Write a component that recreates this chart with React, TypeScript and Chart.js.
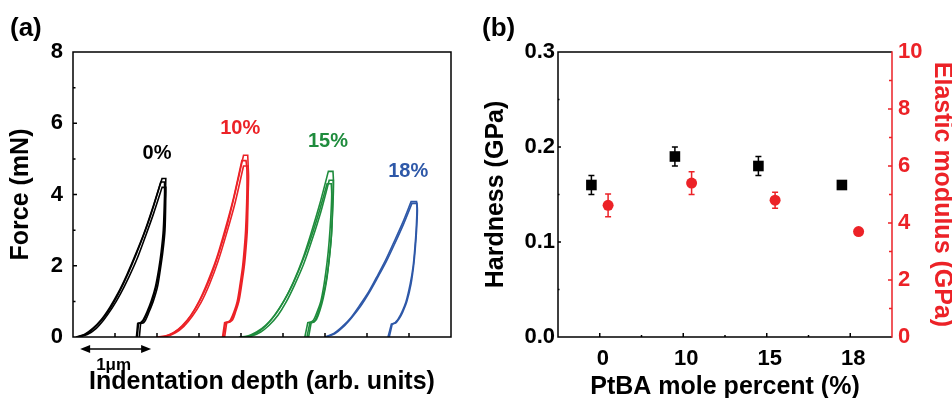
import React, { useEffect, useRef } from 'react';
import { Chart, registerables } from 'chart.js';
Chart.register(...registerables);

const FONT = "'Liberation Sans', Arial, Helvetica, sans-serif";
const BLACK = '#000000';
const RED = '#ec2227';
const GREEN = '#1f8c3d';
const BLUE = '#2e58a8';

// ---------- Panel (a): load-displacement curves, [depth (arb.), force (mN)] ----------
// corner points (peak, end of hold, drift-hold step) are listed twice to keep the corners sharp
const curves0: number[][][] = [
  [[0.10,0],[0.30,0.07],[0.50,0.25],[0.71,0.51],[0.91,0.85],[1.11,1.28],[1.31,1.78],[1.51,2.34],[1.72,2.98],[1.92,3.68],[2.12,4.45],[2.12,4.45],[2.21,4.45],[2.21,4.45],[2.20,4.0],[2.17,3.0],[2.12,2.4],[2.06,1.9],[1.98,1.4],[1.88,1.0],[1.78,0.7],[1.69,0.48],[1.63,0.40],[1.63,0.40],[1.56,0.38],[1.56,0.38],[1.53,0]],
  [[0.14,0],[0.34,0.07],[0.54,0.23],[0.73,0.48],[0.93,0.81],[1.13,1.21],[1.33,1.68],[1.53,2.21],[1.72,2.81],[1.92,3.47],[2.12,4.2],[2.12,4.2],[2.21,4.2],[2.21,4.2],[2.21,4.0],[2.19,3.0],[2.14,2.4],[2.08,1.9],[2.01,1.4],[1.91,1.0],[1.81,0.7],[1.73,0.48],[1.68,0.40],[1.68,0.40],[1.61,0.38],[1.61,0.38],[1.58,0]],
  [[0.07,0],[0.27,0.07],[0.47,0.24],[0.68,0.50],[0.88,0.84],[1.08,1.25],[1.28,1.74],[1.48,2.29],[1.69,2.91],[1.89,3.60],[2.09,4.35],[2.09,4.35],[2.18,4.35],[2.18,4.35],[2.18,4.0],[2.15,3.0],[2.10,2.4],[2.04,1.9],[1.96,1.4],[1.86,1.0],[1.76,0.7],[1.67,0.48],[1.61,0.40],[1.61,0.40],[1.54,0.38],[1.54,0.38],[1.51,0]],
];
const curves10: number[][][] = [
  [[2.00,0],[2.21,0.03],[2.41,0.13],[2.62,0.32],[2.82,0.62],[3.03,1.04],[3.24,1.58],[3.44,2.24],[3.65,3.05],[3.85,4.0],[4.06,5.1],[4.06,5.1],[4.16,5.1],[4.16,5.1],[4.17,4.8],[4.16,4.0],[4.13,3.0],[4.10,2.5],[4.06,2.0],[4.00,1.5],[3.93,1.0],[3.85,0.7],[3.77,0.48],[3.71,0.42],[3.71,0.42],[3.63,0.40],[3.63,0.40],[3.58,0]],
  [[2.03,0],[2.23,0.02],[2.44,0.12],[2.64,0.30],[2.84,0.58],[3.05,0.97],[3.25,1.48],[3.45,2.11],[3.65,2.88],[3.86,3.77],[4.06,4.8],[4.06,4.8],[4.17,4.8],[4.17,4.8],[4.18,4.5],[4.17,4.0],[4.15,3.0],[4.12,2.5],[4.08,2.0],[4.02,1.5],[3.95,1.0],[3.87,0.7],[3.80,0.48],[3.74,0.42],[3.74,0.42],[3.66,0.40],[3.66,0.40],[3.61,0]],
  [[1.98,0],[2.18,0.02],[2.39,0.12],[2.59,0.31],[2.80,0.60],[3.00,1.0],[3.20,1.53],[3.41,2.18],[3.61,2.97],[3.82,3.89],[4.02,4.95],[4.02,4.95],[4.12,4.95],[4.12,4.95],[4.14,4.7],[4.14,4.0],[4.11,3.0],[4.08,2.5],[4.04,2.0],[3.98,1.5],[3.91,1.0],[3.83,0.7],[3.75,0.48],[3.69,0.42],[3.69,0.42],[3.61,0.40],[3.61,0.40],[3.56,0]],
];
const curves15: number[][][] = [
  [[4.00,0],[4.21,0.03],[4.42,0.15],[4.62,0.35],[4.83,0.65],[5.04,1.05],[5.25,1.55],[5.46,2.16],[5.66,2.88],[5.87,3.71],[6.08,4.65],[6.08,4.65],[6.19,4.65],[6.19,4.65],[6.20,4.4],[6.19,4.0],[6.16,3.0],[6.12,2.4],[6.07,1.9],[6.00,1.4],[5.92,1.0],[5.84,0.7],[5.77,0.48],[5.72,0.42],[5.72,0.42],[5.64,0.40],[5.64,0.40],[5.57,0]],
  [[4.06,0],[4.26,0.03],[4.47,0.14],[4.67,0.33],[4.88,0.61],[5.08,0.99],[5.28,1.47],[5.49,2.04],[5.69,2.72],[5.90,3.51],[6.10,4.4],[6.10,4.4],[6.20,4.4],[6.20,4.4],[6.20,4.1],[6.18,3.5],[6.15,2.8],[6.10,2.2],[6.04,1.6],[5.96,1.1],[5.88,0.75],[5.80,0.5],[5.74,0.42],[5.74,0.42],[5.67,0.40],[5.67,0.40],[5.61,0]],
  [[3.95,0],[4.16,0.03],[4.37,0.14],[4.58,0.32],[4.79,0.60],[5.00,0.97],[5.21,1.43],[5.42,2.0],[5.63,2.66],[5.84,3.43],[6.05,4.3],[6.05,4.3],[6.15,4.3],[6.15,4.3],[6.16,4.0],[6.14,3.4],[6.10,2.7],[6.05,2.1],[5.98,1.5],[5.90,1.0],[5.81,0.7],[5.73,0.48],[5.67,0.42],[5.67,0.42],[5.59,0.40],[5.59,0.40],[5.52,0]],
];
const curves18: number[][][] = [
  [[6.00,0],[6.21,0.10],[6.41,0.29],[6.62,0.55],[6.82,0.88],[7.03,1.25],[7.23,1.68],[7.44,2.15],[7.64,2.66],[7.85,3.21],[8.05,3.8],[8.05,3.8],[8.18,3.8],[8.18,3.8],[8.19,3.6],[8.17,3.0],[8.14,2.5],[8.10,2.0],[8.03,1.5],[7.93,1.0],[7.83,0.7],[7.74,0.5],[7.67,0.4],[7.67,0.4],[7.58,0.36],[7.58,0.36],[7.50,0]],
  [[6.03,0],[6.23,0.09],[6.44,0.29],[6.64,0.55],[6.85,0.87],[7.05,1.24],[7.25,1.66],[7.46,2.12],[7.66,2.62],[7.87,3.17],[8.07,3.75],[8.07,3.75],[8.19,3.75],[8.19,3.75],[8.20,3.55],[8.18,3.0],[8.15,2.5],[8.11,2.0],[8.05,1.5],[7.95,1.0],[7.85,0.7],[7.76,0.5],[7.69,0.4],[7.69,0.4],[7.60,0.36],[7.60,0.36],[7.53,0]],
];
const curveSets = [curves0, curves10, curves15, curves18];
const curveColors = [BLACK, RED, GREEN, BLUE];
const curveLabels = ['0%', '10%', '15%', '18%'];
const curveLabelX = [2.0, 3.98, 6.07, 7.98];
const curveLabelY = [5.15, 5.86, 5.49, 4.64];

const forceMajorTicks = [2, 4, 6];
const forceMinorTicks = [1, 3, 5, 7];
const depthTicks = [1, 2, 3, 4, 5, 6, 7, 8];
const scaleBarDepth = [0.17, 1.86];
const scaleBarLabel = '1μm';

// ---------- Panel (b): hardness & elastic modulus ----------
const ptbaCategories = ['0', '10', '15', '18'];
const hardness = [0.16, 0.19, 0.18, 0.16];
const hardnessErr = [0.01, 0.01, 0.01, 0.0];
const modulus = [4.62, 5.4, 4.8, 3.7];
const modulusErr = [0.4, 0.4, 0.28, 0.0];
const hardMajor = [0.1, 0.2];
const hardMinor = [0.05, 0.15, 0.25];
const modMajor = [2, 4, 6, 8];
const modMinor = [1, 3, 5, 7, 9];
const catMinor = [0.5, 1.5, 2.5];
const DODGE = 0.1;

const tickFont = { family: FONT, size: 22, weight: 'bold' as const };
const titleFont = { family: FONT, size: 25, weight: 'bold' as const };

const panelAPlugin = {
  id: 'panelA',
  afterDraw(chart: any) {
    const { ctx, chartArea: ca, scales } = chart;
    const x = scales.x, y = scales.y;
    ctx.save();
    ctx.strokeStyle = BLACK;
    ctx.lineWidth = 1.5;
    ctx.strokeRect(ca.left, ca.top, ca.right - ca.left, ca.bottom - ca.top);
    ctx.beginPath();
    depthTicks.forEach((v) => { const px = x.getPixelForValue(v); ctx.moveTo(px, ca.bottom); ctx.lineTo(px, ca.bottom - 4); });
    forceMajorTicks.forEach((v) => { const py = y.getPixelForValue(v); ctx.moveTo(ca.left, py); ctx.lineTo(ca.left + 4, py); });
    forceMinorTicks.forEach((v) => { const py = y.getPixelForValue(v); ctx.moveTo(ca.left, py); ctx.lineTo(ca.left + 2.5, py); });
    ctx.stroke();
    // curve labels
    ctx.font = `bold 20px ${FONT}`;
    ctx.textAlign = 'center';
    ctx.textBaseline = 'middle';
    curveLabels.forEach((t, i) => {
      ctx.fillStyle = curveColors[i];
      ctx.fillText(t, x.getPixelForValue(curveLabelX[i]), y.getPixelForValue(curveLabelY[i]));
    });
    // scale bar
    const x0 = x.getPixelForValue(scaleBarDepth[0]);
    const x1 = x.getPixelForValue(scaleBarDepth[1]);
    const yb = ca.bottom + 12;
    ctx.strokeStyle = BLACK;
    ctx.fillStyle = BLACK;
    ctx.lineWidth = 1.6;
    ctx.beginPath();
    ctx.moveTo(x0 + 4, yb); ctx.lineTo(x1 - 4, yb); ctx.stroke();
    ctx.beginPath();
    ctx.moveTo(x0, yb); ctx.lineTo(x0 + 10, yb - 4); ctx.lineTo(x0 + 10, yb + 4); ctx.closePath();
    ctx.moveTo(x1, yb); ctx.lineTo(x1 - 10, yb - 4); ctx.lineTo(x1 - 10, yb + 4); ctx.closePath();
    ctx.fill();
    ctx.font = `bold 17px ${FONT}`;
    ctx.textAlign = 'center';
    ctx.textBaseline = 'alphabetic';
    ctx.fillText(scaleBarLabel, (x0 + x1) / 2 - 2, ca.bottom + 33);
    // panel letter
    ctx.font = `bold 26px ${FONT}`;
    ctx.textAlign = 'left';
    ctx.fillText('(a)', 10, 36);
    ctx.restore();
  },
};

const panelBPlugin = {
  id: 'panelB',
  beforeDatasetsDraw(chart: any) {
    const { ctx, scales } = chart;
    const x = scales.x, y = scales.y, y1 = scales.y1;
    ctx.save();
    ctx.lineWidth = 1.5;
    const bar = (px: number, top: number, bot: number, color: string) => {
      if (Math.abs(bot - top) < 0.5) return;
      ctx.strokeStyle = color;
      ctx.beginPath();
      ctx.moveTo(px, top); ctx.lineTo(px, bot);
      ctx.moveTo(px - 3, top); ctx.lineTo(px + 3, top);
      ctx.moveTo(px - 3, bot); ctx.lineTo(px + 3, bot);
      ctx.stroke();
    };
    hardness.forEach((v, i) => {
      bar(x.getPixelForValue(i - DODGE), y.getPixelForValue(v + hardnessErr[i]), y.getPixelForValue(v - hardnessErr[i]), BLACK);
    });
    modulus.forEach((v, i) => {
      bar(x.getPixelForValue(i + DODGE), y1.getPixelForValue(v + modulusErr[i]), y1.getPixelForValue(v - modulusErr[i]), RED);
    });
    ctx.restore();
  },
  afterDraw(chart: any) {
    const { ctx, chartArea: ca, scales } = chart;
    const x = scales.x, y = scales.y, y1 = scales.y1;
    ctx.save();
    ctx.lineWidth = 1.5;
    ctx.strokeStyle = BLACK;
    ctx.beginPath();
    ctx.moveTo(ca.right, ca.top); ctx.lineTo(ca.left, ca.top); ctx.lineTo(ca.left, ca.bottom); ctx.lineTo(ca.right, ca.bottom);
    ptbaCategories.forEach((_, i) => { const px = x.getPixelForValue(i); ctx.moveTo(px, ca.bottom); ctx.lineTo(px, ca.bottom - 4); });
    catMinor.forEach((v) => { const px = x.getPixelForValue(v); ctx.moveTo(px, ca.bottom); ctx.lineTo(px, ca.bottom - 2); });
    hardMajor.forEach((v) => { const py = y.getPixelForValue(v); ctx.moveTo(ca.left, py); ctx.lineTo(ca.left + 3, py); });
    hardMinor.forEach((v) => { const py = y.getPixelForValue(v); ctx.moveTo(ca.left, py); ctx.lineTo(ca.left + 1.5, py); });
    ctx.stroke();
    ctx.strokeStyle = RED;
    ctx.beginPath();
    ctx.moveTo(ca.right, ca.top - 0.75); ctx.lineTo(ca.right, ca.bottom + 0.75);
    modMajor.forEach((v) => { const py = y1.getPixelForValue(v); ctx.moveTo(ca.right, py); ctx.lineTo(ca.right - 4, py); });
    modMinor.forEach((v) => { const py = y1.getPixelForValue(v); ctx.moveTo(ca.right, py); ctx.lineTo(ca.right - 3, py); });
    ctx.stroke();
    ctx.fillStyle = BLACK;
    ctx.font = `bold 26px ${FONT}`;
    ctx.textAlign = 'left';
    ctx.textBaseline = 'alphabetic';
    ctx.fillText('(b)', 6, 36);
    ctx.restore();
  },
};

export default function App() {
  const refA = useRef<HTMLCanvasElement>(null);
  const refB = useRef<HTMLCanvasElement>(null);

  useEffect(() => {
    const datasetsA: any[] = [];
    curveSets.forEach((set, ci) => {
      set.forEach((curve) => {
        datasetsA.push({
          data: curve.map(([x, y]) => ({ x, y })),
          showLine: true,
          borderColor: curveColors[ci],
          borderWidth: 1.6,
          pointRadius: 0,
          tension: 0.3,
          fill: false,
        });
      });
    });

    const chartA = new Chart(refA.current as HTMLCanvasElement, {
      type: 'scatter',
      data: { datasets: datasetsA },
      options: {
        responsive: false,
        animation: false,
        devicePixelRatio: 1,
        layout: { padding: { top: 52, left: 0, right: 25, bottom: 0 } },
        plugins: { legend: { display: false }, tooltip: { enabled: false } },
        scales: {
          x: {
            type: 'linear', min: 0, max: 9,
            grid: { display: false, drawTicks: false },
            border: { display: false },
            ticks: { display: false },
            title: { display: true, text: 'Indentation depth (arb. units)', color: BLACK, font: { ...titleFont, lineHeight: 1.2 }, padding: { top: 0, bottom: 1 } },
            afterFit: (s: any) => { s.height = 61; },
          },
          y: {
            type: 'linear', min: 0, max: 8,
            grid: { display: false, drawTicks: false },
            border: { display: false },
            ticks: { stepSize: 2, color: BLACK, font: tickFont, padding: 10 },
            title: { display: true, text: 'Force (mN)', color: BLACK, font: { ...titleFont, lineHeight: 1.2 }, padding: { top: 6, bottom: 0 } },
            afterFit: (s: any) => { s.width = 73; },
          },
        },
      } as any,
      plugins: [panelAPlugin],
    });

    const chartB = new Chart(refB.current as HTMLCanvasElement, {
      type: 'scatter',
      data: {
        datasets: [
          {
            data: hardness.map((v, i) => ({ x: i - DODGE, y: v })),
            yAxisID: 'y',
            pointStyle: 'rect',
            pointRadius: 7.5,
            backgroundColor: BLACK,
            borderWidth: 0,
          },
          {
            data: modulus.map((v, i) => ({ x: i + DODGE, y: v })),
            yAxisID: 'y1',
            pointStyle: 'circle',
            pointRadius: 5.5,
            backgroundColor: RED,
            borderWidth: 0,
          },
        ],
      },
      options: {
        responsive: false,
        animation: false,
        devicePixelRatio: 1,
        layout: { padding: { top: 52, left: 0, right: 0, bottom: 0 } },
        plugins: { legend: { display: false }, tooltip: { enabled: false } },
        scales: {
          x: {
            type: 'linear', min: -0.5, max: 3.5,
            grid: { display: false, drawTicks: false },
            border: { display: false },
            afterBuildTicks: (s: any) => { s.ticks = ptbaCategories.map((_, i) => ({ value: i })); },
            ticks: { autoSkip: false, maxRotation: 0, color: BLACK, font: tickFont, padding: 8.5, labelOffset: 3, callback: (_v: any, i: number) => ptbaCategories[i] },
            title: { display: true, text: 'PtBA mole percent (%)', color: BLACK, font: { ...titleFont, lineHeight: 1 }, padding: { top: 0, bottom: -2 } },
            afterFit: (s: any) => { s.height = 61; },
          },
          y: {
            type: 'linear', position: 'left', min: 0, max: 0.3,
            grid: { display: false, drawTicks: false },
            border: { display: false },
            ticks: { stepSize: 0.1, color: BLACK, font: tickFont, padding: 3, callback: (v: any) => Number(v).toFixed(1) },
            title: { display: true, text: 'Hardness (GPa)', color: BLACK, font: { ...titleFont, lineHeight: 1.2 }, padding: { top: 5, bottom: 0 } },
            afterFit: (s: any) => { s.width = 82; },
          },
          y1: {
            type: 'linear', position: 'right', min: 0, max: 10,
            grid: { display: false, drawTicks: false },
            border: { display: false },
            ticks: { stepSize: 2, color: RED, font: tickFont, padding: 6 },
            title: { display: true, text: 'Elastic modulus (GPa)', color: RED, font: { ...titleFont, lineHeight: 1 }, padding: { top: -2.5, bottom: 0 } },
            afterFit: (s: any) => { s.width = 60; },
          },
        },
      } as any,
      plugins: [panelBPlugin],
    });

    return () => { chartA.destroy(); chartB.destroy(); };
  }, []);

  return (
    <div style={{ position: 'absolute', left: 0, top: 0, width: 952, height: 398, background: '#ffffff', overflow: 'hidden' }}>
      <canvas ref={refA} width={476} height={398} style={{ position: 'absolute', left: 0, top: 0, width: 476, height: 398 }} />
      <canvas ref={refB} width={476} height={398} style={{ position: 'absolute', left: 476, top: 0, width: 476, height: 398 }} />
    </div>
  );
}
